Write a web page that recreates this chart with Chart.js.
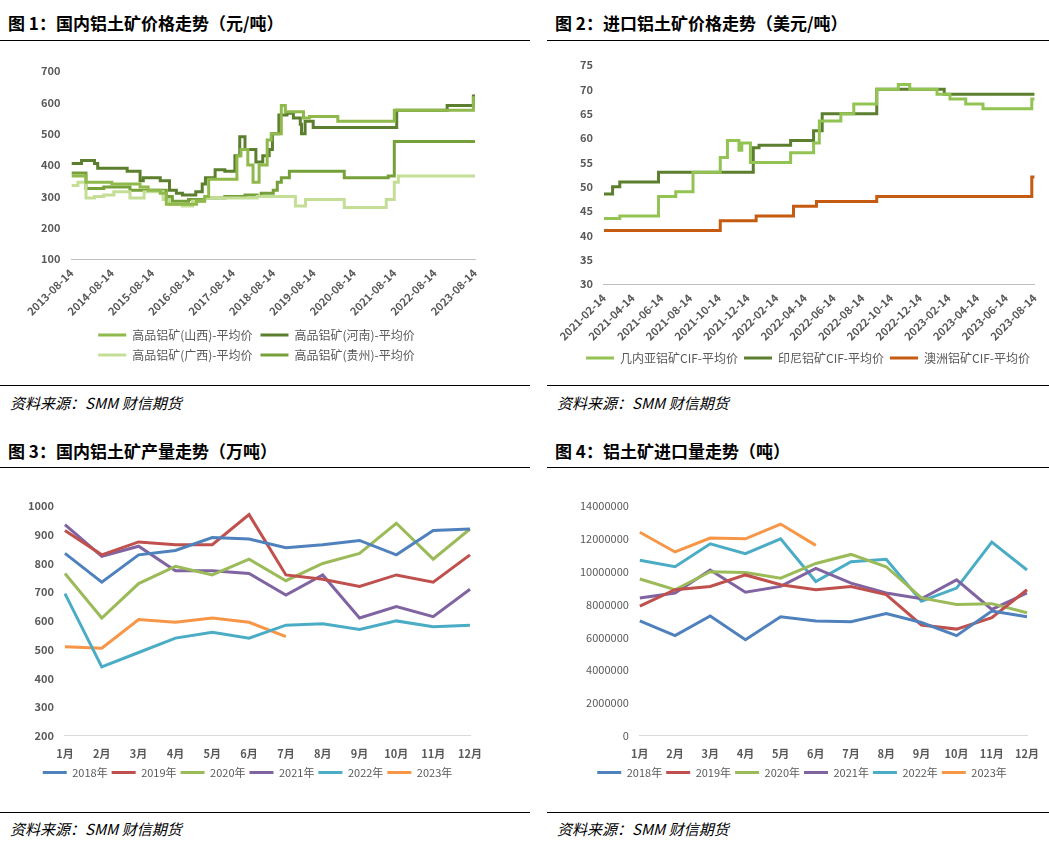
<!DOCTYPE html>
<html><head><meta charset="utf-8">
<script src="https://cdn.jsdelivr.net/npm/chart.js@4"></script>
<style>
body{margin:0;width:1049px;height:851px;background:#fff;font-family:"Noto Sans CJK SC",sans-serif;position:relative;overflow:hidden}
.t{position:absolute;font-size:17px;font-weight:bold;color:#000}
.src{position:absolute;font-size:15px;font-style:italic;color:#000}
.box{position:absolute;border-top:1.5px solid #000;border-bottom:1.5px solid #000}
.box canvas{position:absolute;left:0;top:0}
</style></head><body>
<div class="t" style="left:8px;top:10px">图 1：国内铝土矿价格走势（元/吨）</div>
<div class="t" style="left:555px;top:10px">图 2：进口铝土矿价格走势（美元/吨）</div>
<div class="t" style="left:8px;top:438px">图 3：国内铝土矿产量走势（万吨）</div>
<div class="t" style="left:555px;top:438px">图 4：铝土矿进口量走势（吨）</div>
<div class="box" style="left:0;top:40px;width:530px;height:344px"><canvas id="c1"></canvas></div>
<div class="box" style="left:547px;top:40px;width:502px;height:344px"><canvas id="c2"></canvas></div>
<div class="box" style="left:0;top:467px;width:530px;height:344px"><canvas id="c3"></canvas></div>
<div class="box" style="left:547px;top:467px;width:502px;height:344px"><canvas id="c4"></canvas></div>
<div class="src" style="left:10px;top:392px">资料来源：SMM 财信期货</div>
<div class="src" style="left:557px;top:392px">资料来源：SMM 财信期货</div>
<div class="src" style="left:10px;top:818px">资料来源：SMM 财信期货</div>
<div class="src" style="left:557px;top:818px">资料来源：SMM 财信期货</div>
<script>
// ---- 图1 国内价格（x = 2013-08-14 起的年数）----
const c1Ticks = ['2013-08-14','2014-08-14','2015-08-14','2016-08-14','2017-08-14','2018-08-14','2019-08-14','2020-08-14','2021-08-14','2022-08-14','2023-08-14'];
const shanxiX = [0,0.36,1,1.7,1.9,2.2,2.35,3.1,3.3,3.4,4.1,4.2,4.37,4.5,4.65,4.85,4.95,5.2,5.3,5.75,5.9,6.6,8,9.96,10];
const shanxiY = [365,345,340,330,320,310,275,285,300,355,430,450,400,345,400,480,500,590,570,550,555,540,575,615,615];
const henanX = [0,0.25,0.57,0.65,1.38,1.7,1.78,2.2,2.43,2.6,2.75,3.08,3.24,3.32,3.56,3.8,4.05,4.17,4.3,4.57,4.74,4.9,4.98,5.14,5.34,5.5,5.67,5.7,5.79,5.99,8.06,9.31,9.96,10];
const henanY = [405,415,405,390,380,350,360,350,320,310,305,315,340,360,385,380,430,490,450,410,430,450,500,560,565,550,530,500,540,520,575,590,620,620];
const guangxiX = [0,0.16,0.36,0.57,0.8,1.05,1.45,1.8,2.27,2.43,2.75,3,3.3,4.6,5.55,5.8,6.76,7.8,8,8.1,10];
const guangxiY = [335,345,295,300,305,315,295,315,290,275,270,285,295,300,270,290,265,290,345,365,365];
const guizhouX = [0,0.36,0.8,1.45,2.35,2.5,2.9,3.3,3.8,4.3,4.6,4.7,5,5.1,5.2,5.4,6.76,7.85,8,10];
const guizhouY = [375,325,330,320,300,285,290,295,300,305,300,310,320,345,360,380,360,365,475,475];

// ---- 图2 进口价格（x = 2021-02 起的月数）----
const c2Ticks = ['2021-02-14','2021-04-14','2021-06-14','2021-08-14','2021-10-14','2021-12-14','2022-02-14','2022-04-14','2022-06-14','2022-08-14','2022-10-14','2022-12-14','2023-02-14','2023-04-14','2023-06-14','2023-08-14'];
const guineaX = [0,1.1,3.8,5,6.2,8.1,8.6,9.4,9.6,10.2,13,14.6,15,16.5,17.4,19,20.5,21.3,23.2,24.1,25.2,26.4,29.8,30];
const guineaY = [43.5,44,48,49,53,56,59.5,57.5,59,55,57,59,63.5,65,67,70,71,70,69,68,67,66,68,68];
const indoX = [0,0.6,1.1,3.8,10.2,10.4,10.8,13,14.6,15.2,19,23.7,30];
const indoY = [48.5,50,51,53,53,58,58.5,59.5,61.5,65,70,69,69];
const ausX = [0,8.1,10.6,13.2,14.8,19,29.8,30];
const ausY = [41,43,44,46,47,48,52,52];

// ---- 图3/图4 月度 ----
const months = ['1月','2月','3月','4月','5月','6月','7月','8月','9月','10月','11月','12月'];
const years = ['2018年','2019年','2020年','2021年','2022年','2023年'];
const yearColors = ['#4F81BD','#C0504D','#9BBB59','#8064A2','#4BACC6','#F79646'];
const output = [
  [835,735,830,845,890,885,855,865,880,830,915,920],
  [915,830,875,865,865,970,760,745,720,760,735,830],
  [765,610,730,790,760,815,740,800,835,940,815,920],
  [935,825,860,775,775,765,690,760,610,650,615,710],
  [695,440,490,540,560,540,585,590,570,600,580,585],
  [510,505,605,595,610,595,545]
];
const imports = [
  [7000000,6100000,7300000,5850000,7250000,7000000,6950000,7450000,6900000,6100000,7600000,7250000],
  [7900000,8900000,9100000,9800000,9200000,8900000,9100000,8600000,6750000,6500000,7200000,8900000],
  [9550000,8900000,10000000,9950000,9600000,10500000,11050000,10300000,8400000,8000000,8050000,7500000],
  [8400000,8700000,10100000,8750000,9100000,10200000,9300000,8700000,8350000,9500000,7700000,8700000],
  [10700000,10300000,11700000,11100000,12000000,9400000,10600000,10750000,8200000,9000000,11800000,10100000],
  [12400000,11200000,12050000,12000000,12900000,11600000]
];

const tickFont = {family:'"Noto Sans CJK SC", sans-serif', size:11, weight:'bold'};
const gray = '#595959';
function pts(xs, ys){ return xs.map((x,i)=>({x, y:ys[i]})); }
function stepDs(label, xs, ys, color){
  return {label, data:pts(xs,ys), borderColor:color, backgroundColor:color, borderWidth:3, pointRadius:0, stepped:true};
}
function legendOpts(w, pad, size){
  return {position:'bottom', labels:{usePointStyle:true, pointStyle:'line', pointStyleWidth:w, boxHeight:4, color:gray, padding:pad, font:{family:'"Noto Sans CJK SC", serif', size:size}}};
}
Chart.defaults.animation = false;
Chart.defaults.responsive = false;

function sizeCanvas(id,w,h){ const c=document.getElementById(id); c.width=w; c.height=h; c.style.width=w+'px'; c.style.height=h+'px'; return c; }

new Chart(sizeCanvas('c1',525,338), {
  type:'line',
  data:{datasets:[
    stepDs('高品铝矿(山西)-平均价', shanxiX, shanxiY, '#8FB94B'),
    stepDs('高品铝矿(河南)-平均价', henanX, henanY, '#5C7F2F'),
    stepDs('高品铝矿(广西)-平均价', guangxiX, guangxiY, '#C4DE96'),
    stepDs('高品铝矿(贵州)-平均价', guizhouX, guizhouY, '#76A03A')
  ]},
  options:{
    layout:{padding:{left:38,right:50,top:30,bottom:8}},
    scales:{
      x:{type:'linear', min:0, max:10, grid:{display:false, tickLength:4, color:'#bfbfbf'}, border:{color:'#bfbfbf'},
         ticks:{stepSize:1, maxRotation:45, minRotation:45, color:gray, font:tickFont, callback:v=>c1Ticks[v]}},
      y:{min:100, max:700, grid:{display:false}, border:{display:false}, ticks:{stepSize:100, color:gray, font:tickFont}}
    },
    plugins:{legend:legendOpts(28,8,12)}
  }
});

new Chart(sizeCanvas('c2',500,338), {
  type:'line',
  data:{datasets:[
    stepDs('几内亚铝矿CIF-平均价', guineaX, guineaY, '#92C353'),
    stepDs('印尼铝矿CIF-平均价', indoX, indoY, '#5C7F2F'),
    stepDs('澳洲铝矿CIF-平均价', ausX, ausY, '#C55A11')
  ]},
  options:{
    layout:{padding:{left:30,right:8,top:24,bottom:5}},
    scales:{
      x:{type:'linear', min:0, max:30, grid:{display:false, tickLength:4, color:'#bfbfbf'}, border:{color:'#bfbfbf'},
         ticks:{stepSize:2, autoSkip:false, maxRotation:45, minRotation:45, color:gray, font:tickFont, callback:v=>c2Ticks[v/2]}},
      y:{min:30, max:75, grid:{display:false}, border:{display:false}, ticks:{stepSize:5, color:gray, font:tickFont}}
    },
    plugins:{legend:legendOpts(28,6,12)}
  }
});

function monthly(id, w, vals, yopts, pad){
  new Chart(sizeCanvas(id,w,338), {
    type:'line',
    data:{labels:months, datasets:years.map((y,i)=>({label:y, data:vals[i], borderColor:yearColors[i], backgroundColor:yearColors[i], borderWidth:3, pointRadius:0, tension:0}))},
    options:{
      layout:{padding:pad},
      scales:{
        x:{grid:{display:false}, border:{color:'#d9d9d9'}, ticks:{color:gray, font:tickFont}},
        y:Object.assign({grid:{display:false}, border:{display:false}}, yopts)
      },
      plugins:{legend:legendOpts(24,4,11)}
    }
  });
}
monthly('c3', 525, output, {min:200, max:1000, ticks:{stepSize:100, color:gray, font:tickFont, callback:v=>v}}, {left:25,right:55,top:38,bottom:18});
monthly('c4', 500, imports, {min:0, max:14000000, ticks:{stepSize:2000000, color:gray, font:{family:'"Noto Sans CJK SC", sans-serif', size:11}, callback:v=>v}}, {left:30,right:20,top:38,bottom:18});
</script>
</body></html>
